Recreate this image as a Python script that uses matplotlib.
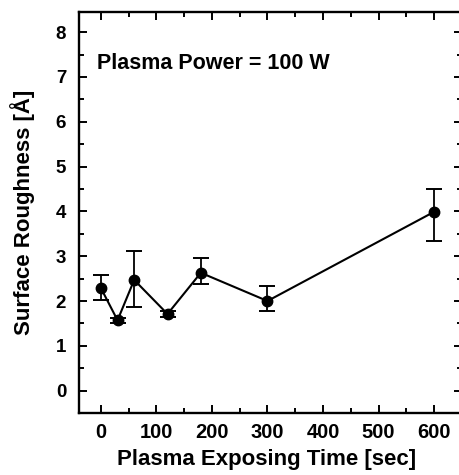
import matplotlib
matplotlib.use('Agg')
import numpy as np
import matplotlib.pyplot as plt
from matplotlib.ticker import MultipleLocator

matplotlib.rcParams['font.family'] = 'Liberation Sans'
matplotlib.rcParams['font.weight'] = 'bold'

# Surface roughness vs plasma exposing time (100 W)
time_sec = [0, 30, 60, 120, 180, 300, 600]
roughness = [2.29, 1.57, 2.47, 1.71, 2.63, 2.00, 3.99]
err_low = [0.26, 0.05, 0.61, 0.07, 0.26, 0.23, 0.66]
err_high = [0.30, 0.05, 0.64, 0.07, 0.32, 0.33, 0.50]

fig = plt.figure(figsize=(4.6, 4.75), dpi=100)
ax = fig.add_axes([0.171, 0.1305, 0.833, 0.8442])

ax.errorbar(time_sec, roughness, yerr=[err_low, err_high], fmt='o-', color='k',
            markersize=7.5, linewidth=1.5, elinewidth=1.3, capsize=6, capthick=1.4)

ax.text(-7, 7.3, 'Plasma Power = 100 W', fontsize=15.5, fontweight='bold',
        ha='left', va='center')

ax.set_xlim(-40, 650)
ax.set_ylim(-0.5, 8.45)
ax.xaxis.set_major_locator(MultipleLocator(100))
ax.xaxis.set_minor_locator(MultipleLocator(50))
ax.yaxis.set_major_locator(MultipleLocator(1))
ax.yaxis.set_minor_locator(MultipleLocator(0.5))
ax.tick_params(which='both', direction='in', top=True, right=True, width=1.4)
ax.tick_params(which='major', length=6)
ax.tick_params(which='minor', length=3.5)
ax.tick_params(axis='x', labelsize=14.5, pad=7)
ax.tick_params(axis='y', labelsize=13.5, pad=9)
for lab in ax.get_xticklabels() + ax.get_yticklabels():
    lab.set_fontweight('bold')
for sp in ax.spines.values():
    sp.set_linewidth(1.7)

#axis titles placed to match the scanned figure
fig.text(267/460, 1-460/475, 'Plasma Exposing Time [sec]', fontsize=16,
         fontweight='bold', ha='center', va='center')
fig.text(23/460, 1-212/475, 'Surface Roughness [Å]', fontsize=16,
         fontweight='bold', ha='center', va='center', rotation=90)

plt.savefig('out.png', dpi=100)
